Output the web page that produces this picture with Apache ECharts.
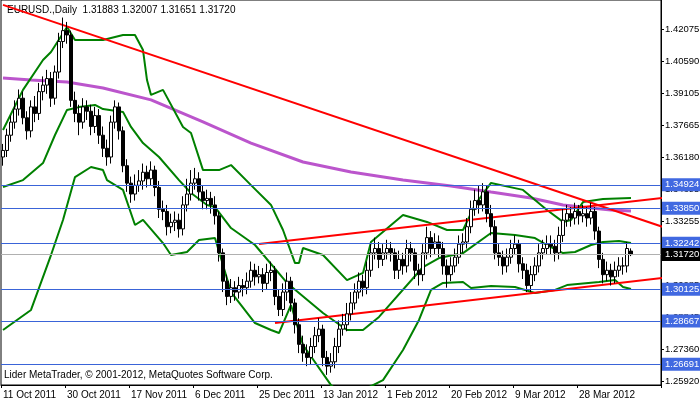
<!DOCTYPE html>
<html><head><meta charset="utf-8">
<script src="https://cdn.jsdelivr.net/npm/echarts@6/dist/echarts.min.js"></script>
<style>html,body{margin:0;padding:0;background:#fff}#c{width:700px;height:402px}</style>
</head><body><div id="c"></div>
<script>
const closes=[1.365,1.372,1.378,1.384,1.389,1.380,1.374,1.385,1.382,1.392,1.395,1.398,1.389,1.401,1.415,1.420,1.418,1.388,1.382,1.378,1.385,1.383,1.376,1.381,1.372,1.366,1.362,1.378,1.385,1.374,1.358,1.350,1.345,1.349,1.351,1.355,1.352,1.356,1.348,1.338,1.337,1.330,1.332,1.333,1.329,1.340,1.345,1.350,1.352,1.346,1.342,1.343,1.340,1.335,1.318,1.305,1.298,1.302,1.300,1.303,1.302,1.305,1.310,1.307,1.308,1.304,1.309,1.310,1.298,1.292,1.300,1.305,1.295,1.285,1.276,1.272,1.270,1.275,1.280,1.283,1.270,1.266,1.268,1.275,1.283,1.285,1.290,1.295,1.300,1.305,1.302,1.310,1.318,1.320,1.315,1.318,1.320,1.318,1.310,1.315,1.312,1.320,1.318,1.310,1.308,1.318,1.325,1.320,1.323,1.320,1.312,1.308,1.312,1.316,1.322,1.323,1.330,1.338,1.342,1.340,1.346,1.336,1.330,1.318,1.316,1.312,1.316,1.320,1.322,1.313,1.310,1.303,1.308,1.312,1.318,1.320,1.322,1.321,1.318,1.326,1.333,1.336,1.334,1.337,1.335,1.336,1.334,1.337,1.328,1.315,1.308,1.310,1.307,1.310,1.312,1.312,1.320,1.3172];
const highs=[1.368,1.375,1.381,1.388,1.393,1.392,1.383,1.388,1.390,1.396,1.399,1.402,1.401,1.404,1.419,1.426,1.424,1.420,1.392,1.386,1.389,1.388,1.386,1.385,1.384,1.376,1.370,1.381,1.388,1.387,1.376,1.361,1.353,1.354,1.356,1.359,1.358,1.360,1.358,1.351,1.342,1.340,1.336,1.337,1.336,1.344,1.352,1.356,1.357,1.355,1.349,1.347,1.346,1.344,1.337,1.320,1.308,1.306,1.305,1.307,1.306,1.309,1.314,1.313,1.312,1.311,1.313,1.314,1.312,1.301,1.304,1.309,1.307,1.297,1.288,1.280,1.276,1.279,1.284,1.288,1.285,1.273,1.272,1.279,1.287,1.290,1.295,1.300,1.304,1.309,1.308,1.314,1.322,1.325,1.323,1.322,1.324,1.323,1.320,1.319,1.318,1.324,1.323,1.320,1.313,1.322,1.330,1.328,1.327,1.326,1.323,1.315,1.316,1.320,1.326,1.327,1.334,1.342,1.347,1.349,1.350,1.349,1.340,1.333,1.322,1.319,1.320,1.324,1.326,1.324,1.316,1.313,1.312,1.316,1.322,1.324,1.326,1.326,1.324,1.330,1.338,1.340,1.339,1.341,1.340,1.340,1.339,1.341,1.339,1.330,1.318,1.314,1.313,1.314,1.316,1.316,1.323,1.32007];
const lows=[1.358,1.362,1.369,1.375,1.381,1.377,1.370,1.371,1.378,1.379,1.388,1.391,1.385,1.386,1.398,1.412,1.414,1.385,1.378,1.372,1.375,1.379,1.372,1.373,1.368,1.362,1.358,1.359,1.375,1.370,1.355,1.346,1.341,1.342,1.346,1.347,1.348,1.349,1.344,1.334,1.333,1.326,1.327,1.328,1.325,1.326,1.337,1.342,1.347,1.342,1.338,1.338,1.336,1.331,1.314,1.300,1.294,1.295,1.296,1.297,1.298,1.299,1.302,1.303,1.304,1.300,1.301,1.305,1.294,1.289,1.289,1.296,1.291,1.281,1.272,1.268,1.266,1.267,1.272,1.277,1.266,1.262,1.263,1.265,1.272,1.280,1.282,1.287,1.292,1.297,1.298,1.299,1.307,1.315,1.311,1.312,1.315,1.314,1.306,1.306,1.308,1.309,1.314,1.306,1.303,1.305,1.315,1.316,1.317,1.316,1.308,1.302,1.305,1.309,1.313,1.318,1.320,1.327,1.335,1.336,1.337,1.332,1.326,1.315,1.312,1.308,1.309,1.313,1.317,1.309,1.306,1.300,1.300,1.305,1.309,1.315,1.317,1.317,1.314,1.315,1.323,1.330,1.330,1.331,1.331,1.332,1.330,1.331,1.324,1.311,1.304,1.305,1.303,1.304,1.307,1.308,1.309,1.31651];
const firstOpen=1.362, lastOpen=1.31883;
const dateLabels=['11 Oct 2011','30 Oct 2011','17 Nov 2011','6 Dec 2011','25 Dec 2011','13 Jan 2012','1 Feb 2012','20 Feb 2012','9 Mar 2012','28 Mar 2012'];
const labelStep=16, totalSlots=165;
const bbUpper=[[0,1.3744],[4.5,1.3928],[9.5,1.4065],[12,1.4102],[16,1.4217],[18,1.4157],[24.5,1.4157],[29.5,1.4180],[33,1.4180],[34.5,1.4111],[36,1.3973],[37,1.3905],[39.5,1.3928],[44.5,1.3758],[47,1.3730],[49.5,1.3560],[54,1.3560],[57,1.3583],[62,1.3491],[67,1.3400],[70,1.3285],[72.5,1.3133],[74,1.3133],[75,1.3202],[79.5,1.3170],[86,1.3055],[89.5,1.3088],[92,1.3230],[99.5,1.3354],[106,1.3322],[111,1.3285],[114.5,1.3285],[118,1.3400],[122,1.3501],[129.5,1.3469],[136,1.3377],[139.5,1.3322],[142,1.3331],[144.5,1.3413],[149.5,1.3427],[157,1.3432]];
const bbMiddle=[[0,1.3482],[4.5,1.3514],[9.5,1.3592],[13,1.3721],[16,1.3836],[19,1.3849],[23,1.3859],[25,1.3840],[29.5,1.3827],[32,1.3758],[35,1.3684],[39,1.3620],[44,1.3514],[47,1.3455],[51,1.3400],[53,1.3390],[57,1.3294],[63,1.3216],[71,1.3042],[79.5,1.2904],[86,1.2826],[89.5,1.2826],[94,1.2886],[104.5,1.3115],[109,1.3156],[114.5,1.3179],[122,1.3271],[128,1.3262],[133,1.3248],[136,1.3216],[139.5,1.3179],[143,1.3184],[147,1.3216],[149.5,1.3230],[154,1.3234],[157,1.3225]];
const bbLower=[[0,1.2826],[7,1.2918],[12,1.3170],[14.5,1.3331],[18,1.3528],[22,1.3574],[24.5,1.3560],[26,1.3514],[29.5,1.3469],[33,1.3308],[35,1.3331],[39.5,1.3225],[42,1.3170],[46,1.3184],[49,1.3239],[53,1.3248],[57,1.3000],[63,1.2858],[67,1.2826],[69,1.2812],[71.5,1.2941],[74.5,1.2757],[82,1.2573],[86,1.2513],[94.5,1.2596],[99.5,1.2734],[104,1.2872],[107,1.3010],[109.5,1.3042],[115,1.3046],[117,1.3019],[122,1.3028],[128,1.3023],[133,1.2996],[138,1.3010],[141,1.3032],[149,1.3046],[153,1.3055],[154.5,1.3023],[157,1.3014]];
const maLine=[[0,1.3983],[7,1.3973],[16,1.3964],[24.5,1.3937],[37,1.3882],[49.5,1.3781],[62,1.3684],[74.5,1.3597],[87,1.3551],[99.5,1.3514],[112,1.3487],[122,1.3459],[132,1.3432],[139.5,1.3400],[147,1.3386],[152,1.3377],[157,1.3372]];
const trendDown=[[-0.5,1.4318],[164.75,1.3299]];
const trendUpper=[[64,1.3221],[164.75,1.3432]];
const trendLower=[[68.25,1.2858],[164.75,1.3065]];
const levels=[1.34924,1.33850,1.32242,1.30125,1.28667,1.26691];
const lastPrice=1.31720;
const yTicks=[1.42075,1.40590,1.39105,1.37665,1.36180,1.34695,1.33255,1.31770,1.30285,1.28845,1.27360,1.25920];

const cats=[];for(let i=0;i<totalSlots;i++){cats.push(i%labelStep===0&&dateLabels[i/labelStep]?dateLabels[i/labelStep]:'');}
const ohlc=closes.map((c,i)=>{const o=i===0?firstOpen:(i===closes.length-1?lastOpen:closes[i-1]);return [o,c,lows[i],highs[i]];});
const F='"Liberation Sans", Arial, sans-serif';
const FS=10, FY=9.5;
const chart=echarts.init(document.getElementById('c'),null,{renderer:'canvas'});
const line=(d,c,w)=>({type:'line',data:d,symbol:'none',smooth:false,lineStyle:{color:c,width:w},silent:true,z:3});
const mlLabel=(bg)=>({position:'end',distance:1,formatter:p=>Number(p.value).toFixed(5),backgroundColor:bg,color:'#fff',fontSize:FY,fontFamily:F,padding:[2,1,1,3]});
chart.setOption({
 animation:false,backgroundColor:'#fff',
 grid:{left:1,right:39,top:0,bottom:17,show:true,borderColor:'#000',borderWidth:1,outerBoundsMode:'none',containLabel:false},
 xAxis:{type:'category',data:cats,boundaryGap:true,
  axisLine:{lineStyle:{color:'#000'}},
  axisTick:{show:true,length:3,lineStyle:{color:'#000'},interval:(i,v)=>v!==''},
  axisLabel:{interval:(i,v)=>v!=='',hideOverlap:false,showMinLabel:true,align:'left',margin:5,fontSize:FS,fontFamily:F,color:'#000'},splitLine:{show:false}},
 yAxis:{type:'value',position:'right',min:1.25735,max:1.43406,scale:true,
  axisLine:{show:true,lineStyle:{color:'#000'}},
  axisTick:{show:true,length:3,customValues:yTicks,lineStyle:{color:'#000'}},
  axisLabel:{customValues:yTicks,formatter:v=>v.toFixed(5),fontSize:FY,fontFamily:F,color:'#000',margin:4},splitLine:{show:false}},
 graphic:[
  {type:'text',left:7,top:5,style:{text:'EURUSD.,Daily  1.31883 1.32007 1.31651 1.31720',font:FS+'px '+F,fill:'#000'}},
  {type:'text',left:4,top:370,style:{text:'Lider MetaTrader, © 2001-2012, MetaQuotes Software Corp.',font:FS+'px '+F,fill:'#000'}}
 ],
 series:[
  {type:'line',data:[],markLine:{silent:true,symbol:'none',animation:false,precision:5,
    lineStyle:{color:'#3a64d8',width:1,type:'solid'},label:mlLabel('#4169e1'),
    data:levels.map(v=>({yAxis:v}))},z:2},
  {type:'line',data:[],markLine:{silent:true,symbol:'none',animation:false,precision:5,
    lineStyle:{color:'#b0b0b0',width:1,type:'solid'},label:mlLabel('#000'),
    data:[{yAxis:lastPrice}]},z:2},
  line(maLine,'#bb55cc',3),
  line(bbUpper,'#008000',2),line(bbMiddle,'#008000',2),line(bbLower,'#008000',2),
  {type:'candlestick',data:ohlc,barWidth:3,z:4,
   itemStyle:{color:'#fff',color0:'#000',borderColor:'#000',borderColor0:'#000',borderWidth:1}},
  line(trendDown,'#ff0000',2),line(trendUpper,'#ff0000',2),line(trendLower,'#ff0000',2)
 ]
});
</script></body></html>
